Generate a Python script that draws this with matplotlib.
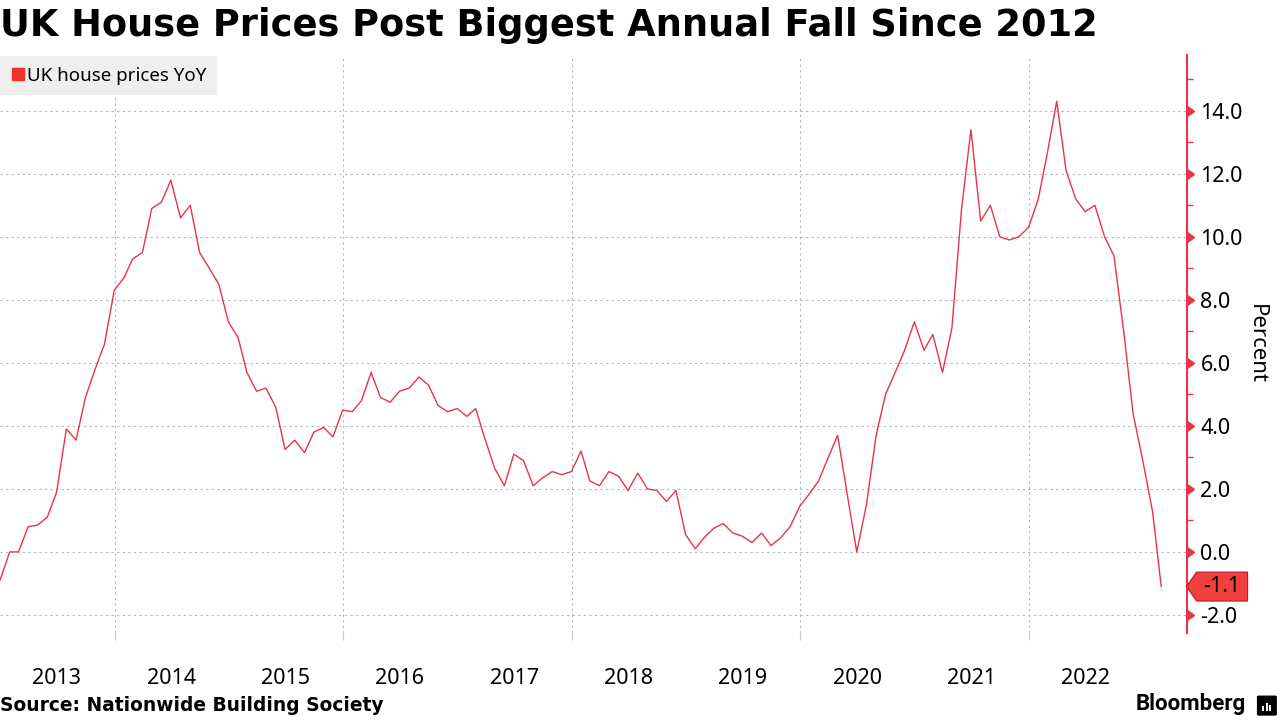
#UK house prices YoY (Nationwide), estilo Bloomberg

import matplotlib
matplotlib.use("Agg")
import matplotlib.pyplot as plt
import matplotlib.dates as mdates
import matplotlib.markers as mmarkers
import matplotlib.transforms as mtransforms
from matplotlib.lines import Line2D
from matplotlib.patches import FancyBboxPatch, Rectangle, Polygon
import pandas as pd

plt.rcParams['axes.unicode_minus'] = False

#Datos mensuales, dic 2012 - feb 2023
fechas = pd.date_range("2012-12-31", "2023-02-28", freq="ME")
yoy = [
    -0.9,
    0.0, 0.0, 0.8, 0.85, 1.1, 1.9, 3.9, 3.55, 4.9, 5.8, 6.6, 8.3,          # 2013
    8.7, 9.3, 9.5, 10.9, 11.1, 11.8, 10.6, 11.0, 9.5, 9.0, 8.5, 7.3,      # 2014
    6.8, 5.7, 5.1, 5.2, 4.6, 3.25, 3.55, 3.15, 3.8, 3.95, 3.65, 4.5,      # 2015
    4.45, 4.8, 5.7, 4.9, 4.75, 5.1, 5.2, 5.55, 5.3, 4.65, 4.45, 4.55,     # 2016
    4.3, 4.55, 3.55, 2.65, 2.1, 3.1, 2.9, 2.1, 2.35, 2.55, 2.45, 2.55,    # 2017
    3.2, 2.25, 2.1, 2.55, 2.4, 1.95, 2.5, 2.0, 1.95, 1.6, 1.95, 0.55,     # 2018
    0.1, 0.45, 0.75, 0.9, 0.6, 0.5, 0.3, 0.6, 0.2, 0.45, 0.8, 1.45,       # 2019
    1.85, 2.25, 3.0, 3.7, 1.8, 0.0, 1.5, 3.7, 5.0, 5.7, 6.4, 7.3,         # 2020
    6.4, 6.9, 5.7, 7.1, 10.9, 13.4, 10.5, 11.0, 10.0, 9.9, 10.0, 10.3,    # 2021
    11.2, 12.6, 14.3, 12.1, 11.2, 10.8, 11.0, 10.0, 9.4, 7.0, 4.4, 2.9,   # 2022
    1.3, -1.1,                                                            # 2023
]
anios = list(range(2013, 2023))
yticks = [-2, 0, 2, 4, 6, 8, 10, 12, 14]

rojo = "#e8334a"

fig = plt.figure(figsize=(12.8, 7.2), dpi=100)
ax = fig.add_axes([0.0, 0.121, 0.927, 0.803])

ax.plot(fechas, yoy, color=rojo, lw=1.0)

#Ejes
ax.set_xlim(mdates.date2num(pd.Timestamp("2012-12-31")),
            mdates.date2num(pd.Timestamp("2023-05-20")))
ax.set_ylim(-2.57, 15.78)

ax.xaxis.set_major_locator(mdates.YearLocator(2))
ax.xaxis.set_major_formatter(plt.NullFormatter())
ax.set_xticks([mdates.date2num(pd.Timestamp(f"{a}-07-01")) for a in anios], minor=True)
ax.set_xticklabels([str(a) for a in anios], minor=True)
ax.tick_params(axis="x", which="major", length=5, width=0.8, color="#c8c8c8")
ax.tick_params(axis="x", which="minor", length=0, pad=25, labelsize=15.5)

ax.yaxis.tick_right()
ax.yaxis.set_label_position("right")
ax.set_yticks(yticks)
ax.set_yticklabels([f"{v:.1f}" for v in yticks])
ax.set_yticks([v + 1 for v in yticks[:-1]] + [15], minor=True)
ax.tick_params(axis="y", which="major", length=0, pad=10, labelsize=15.5)
ax.tick_params(axis="y", which="minor", length=4, width=1, color=rojo, direction="out")
ax.set_ylabel("Percent", rotation=270, fontsize=16, labelpad=17)

for lbl in ax.get_xticklabels(minor=True) + ax.get_yticklabels():
    lbl.set_family("Noto Sans")
ax.yaxis.label.set_family("Noto Sans")

for s in ["left", "top", "bottom"]:
    ax.spines[s].set_visible(False)
ax.spines["right"].set_color(rojo)
ax.spines["right"].set_linewidth(1.5)

ax.grid(True, which="major", axis="both", color="#b5b5b5", ls=(0, (2, 3)), lw=0.8)

#Triangulos de las marcas mayores
ax.plot([1.0] * len(yticks), yticks, transform=ax.get_yaxis_transform(),
        marker=mmarkers.CARETRIGHTBASE, ms=7, color=rojo, ls="none", clip_on=False)

#Etiqueta del ultimo valor (forma de flecha en pixeles)
t_tag = mtransforms.Affine2D() + mtransforms.ScaledTranslation(1.0, yoy[-1], ax.get_yaxis_transform())
tag = Polygon([(0, 0), (10, 14.5), (61, 14.5), (61, -14.5), (10, -14.5)], closed=True,
              transform=t_tag, fc="#f2403e", ec="#b81c2c", lw=0.8, clip_on=False, zorder=5)
ax.add_patch(tag)
ax.annotate(f"{yoy[-1]:.1f}", xy=(1.0, yoy[-1]), xycoords=ax.get_yaxis_transform(),
            xytext=(35, 0), textcoords="offset pixels", va="center", ha="center",
            fontsize=15.5, family="Noto Sans", color="black", zorder=6)

#Leyenda
h = Line2D([], [], color="#f0302a", marker="s", ls="none", ms=8)
leg = ax.legend([h], ["UK house prices YoY"], loc="upper left", bbox_to_anchor=(0.0, 0.997),
                frameon=True, fancybox=False, facecolor="#efefef", edgecolor="none",
                framealpha=1, handletextpad=0.1, borderpad=0.55, handlelength=0.8,
                borderaxespad=0, prop={"family": "Noto Sans", "size": 13.5})

#Textos
fig.text(0.0, 0.965, "UK House Prices Post Biggest Annual Fall Since 2012",
         fontsize=26.5, fontweight="bold", va="center", ha="left")
fig.text(0.0, 0.02, "Source: Nationwide Building Society",
         fontsize=13.4, fontweight="bold", va="center", ha="left")
fig.text(0.973, 0.022, "Bloomberg", fontsize=16, fontweight="bold",
         va="center", ha="right", family="Roboto")

#Logo
logo = FancyBboxPatch((0.9835, 0.008), 0.0125, 0.024, boxstyle="round,pad=0.001",
                      transform=fig.transFigure, fc="black", ec="black")
fig.patches.append(logo)
for i, hh in enumerate([0.007, 0.011, 0.008]):
    fig.patches.append(Rectangle((0.9860 + i * 0.0028, 0.013), 0.0016, hh,
                                 transform=fig.transFigure, fc="white", ec="none"))

plt.savefig("out.png", dpi=100)
